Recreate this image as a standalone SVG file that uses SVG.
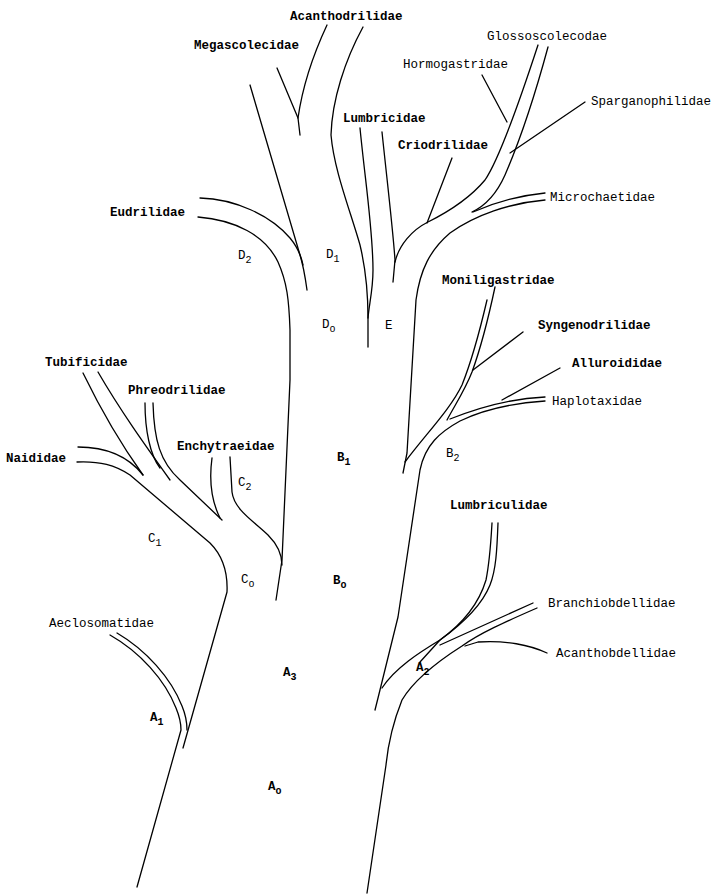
<svg xmlns="http://www.w3.org/2000/svg" width="717" height="895" viewBox="0 0 717 895">
<style>
.b{fill:none;stroke:#000;stroke-width:1.3;stroke-linecap:round;stroke-linejoin:round}
text{font-family:"Liberation Mono","DejaVu Sans Mono",monospace;font-size:12.5px;fill:#000}
.bd{font-weight:bold}
.s{font-size:10px}
</style>
<rect width="717" height="895" fill="#fff"/>
<g id="connectors">
<!-- A region -->
<path class="b" d="M110,635 C140,652 165,680 176,708 Q181,720 181,730 L137,887"/>
<path class="b" d="M117,633 C146,650 171,678 182,706 Q187,718 187,730"/>
<path class="b" d="M77,462 C100,461 115,465 130,475 L210,543 C222,555 228,570 227,592 L183,748"/>
<!-- C region -->
<path class="b" d="M78,447 C105,447 128,456 143,475"/>
<path class="b" d="M83,373 C100,408 120,443 143,475"/>
<path class="b" d="M98,372 C120,410 145,445 170,480"/>
<path class="b" d="M145,403 C145,430 150,455 160,468"/>
<path class="b" d="M153,403 C154,440 160,462 180,480 L222,520"/>
<path class="b" d="M212,458 C209,480 211,500 220,518"/>
<path class="b" d="M230,457 L232,492 C234,510 255,522 268,535 C278,545 282,555 282,565"/>
<!-- trunk left -->
<path class="b" d="M198,217 C235,220 265,235 278,262 C287,282 289,300 290,330 L290,380 L282,560 L276,600"/>
<!-- D region -->
<path class="b" d="M200,198 C235,199 270,215 290,238 Q300,250 303,265"/>
<path class="b" d="M250,85 L300,255 Q304,268 307,290"/>
<path class="b" d="M277,68 L298,118 L300,135"/>
<path class="b" d="M327,25 C313,55 302,90 298,118"/>
<path class="b" d="M363,27 C345,60 332,100 331,135 C334,170 350,210 360,245 C366,270 368,300 368,318"/>
<path class="b" d="M360,128 C365,180 373,230 373,270 C373,290 369,305 368,318 L368,347"/>
<!-- E region -->
<path class="b" d="M382,132 C387,180 393,230 395,260 L393,282"/>
<path class="b" d="M395,262 C399,245 412,230 428,222 C450,211 470,198 485,180 C500,158 520,100 538,45"/>
<path class="b" d="M452,158 L427,223"/>
<path class="b" d="M482,75 L507,122"/>
<path class="b" d="M548,47 C535,95 518,145 505,175 C497,193 487,205 472,212"/>
<path class="b" d="M545,193 C525,195 500,200 473,212"/>
<path class="b" d="M545,200 C510,203 475,215 450,233 C430,250 420,270 416,300 L407,453 L403,473"/>
<path class="b" d="M585,102 L510,153"/>
<!-- B region -->
<path class="b" d="M487,300 C480,330 472,360 462,385 C450,410 425,435 405,462"/>
<path class="b" d="M495,287 C488,320 480,350 472,372 C465,390 455,405 447,420"/>
<path class="b" d="M523,332 L473,370"/>
<path class="b" d="M560,368 L502,400"/>
<path class="b" d="M545,397 C520,398 490,403 450,419"/>
<path class="b" d="M545,401 C515,403 485,409 460,421 C440,432 425,445 420,470 L398,617 L378,698 L375,710"/>
<!-- A2 region -->
<path class="b" d="M382,688 C395,668 420,652 440,640 C465,622 480,600 486,580 C490,560 491,540 492,523"/>
<path class="b" d="M498,523 C497,550 496,570 490,585 C482,605 465,622 440,640 L420,662"/>
<path class="b" d="M533,603 L440,645"/>
<path class="b" d="M537,608 C505,622 480,633 462,646 C440,660 415,678 402,700 C394,720 388,745 386,765 L367,893"/>
<path class="b" d="M547,653 C530,645 505,640 478,642 L465,646"/>
</g>
<g id="n-acanthodrilidae"><text class="bd" x="290" y="20">Acanthodrilidae</text></g>
<g id="n-megascolecidae"><text class="bd" x="194" y="49">Megascolecidae</text></g>
<g id="n-glossoscolecodae"><text x="487" y="40">Glossoscolecodae</text></g>
<g id="n-hormogastridae"><text x="403" y="68">Hormogastridae</text></g>
<g id="n-sparganophilidae"><text x="591" y="105">Sparganophilidae</text></g>
<g id="n-lumbricidae"><text class="bd" x="343" y="122">Lumbricidae</text></g>
<g id="n-criodrilidae"><text class="bd" x="398" y="149">Criodrilidae</text></g>
<g id="n-microchaetidae"><text x="550" y="201">Microchaetidae</text></g>
<g id="n-eudrilidae"><text class="bd" x="110" y="216">Eudrilidae</text></g>
<g id="n-moniligastridae"><text class="bd" x="442" y="284">Moniligastridae</text></g>
<g id="n-syngenodrilidae"><text class="bd" x="538" y="329">Syngenodrilidae</text></g>
<g id="n-alluroididae"><text class="bd" x="572" y="367">Alluroididae</text></g>
<g id="n-haplotaxidae"><text x="552" y="405">Haplotaxidae</text></g>
<g id="n-tubificidae"><text class="bd" x="45" y="366">Tubificidae</text></g>
<g id="n-phreodrilidae"><text class="bd" x="128" y="394">Phreodrilidae</text></g>
<g id="n-enchytraeidae"><text class="bd" x="177" y="450">Enchytraeidae</text></g>
<g id="n-naididae"><text class="bd" x="6" y="462">Naididae</text></g>
<g id="n-lumbriculidae"><text class="bd" x="450" y="509">Lumbriculidae</text></g>
<g id="n-branchiobdellidae"><text x="548" y="607">Branchiobdellidae</text></g>
<g id="n-acanthobdellidae"><text x="556" y="657">Acanthobdellidae</text></g>
<g id="n-aeclosomatidae"><text x="49" y="627">Aeclosomatidae</text></g>
<g id="l-d2"><text x="238" y="259">D<tspan class="s" dy="4">2</tspan></text></g>
<g id="l-d1"><text x="326" y="258">D<tspan class="s" dy="4">1</tspan></text></g>
<g id="l-d0"><text x="322" y="328">D<tspan class="s" dy="4">o</tspan></text></g>
<g id="l-e"><text x="385" y="329">E</text></g>
<g id="l-b2"><text x="446" y="457">B<tspan class="s" dy="4">2</tspan></text></g>
<g id="l-b1"><text class="bd" x="337" y="461">B<tspan class="s" dy="4">1</tspan></text></g>
<g id="l-b0"><text class="bd" x="333" y="584">B<tspan class="s" dy="4">o</tspan></text></g>
<g id="l-c2"><text x="238" y="486">C<tspan class="s" dy="4">2</tspan></text></g>
<g id="l-c1"><text x="148" y="542">C<tspan class="s" dy="4">1</tspan></text></g>
<g id="l-c0"><text x="241" y="583">C<tspan class="s" dy="4">o</tspan></text></g>
<g id="l-a3"><text class="bd" x="283" y="676">A<tspan class="s" dy="4">3</tspan></text></g>
<g id="l-a2"><text class="bd" x="416" y="671">A<tspan class="s" dy="4">2</tspan></text></g>
<g id="l-a1"><text class="bd" x="150" y="721">A<tspan class="s" dy="4">1</tspan></text></g>
<g id="l-a0"><text class="bd" x="268" y="790">A<tspan class="s" dy="4">o</tspan></text></g>
</svg>
